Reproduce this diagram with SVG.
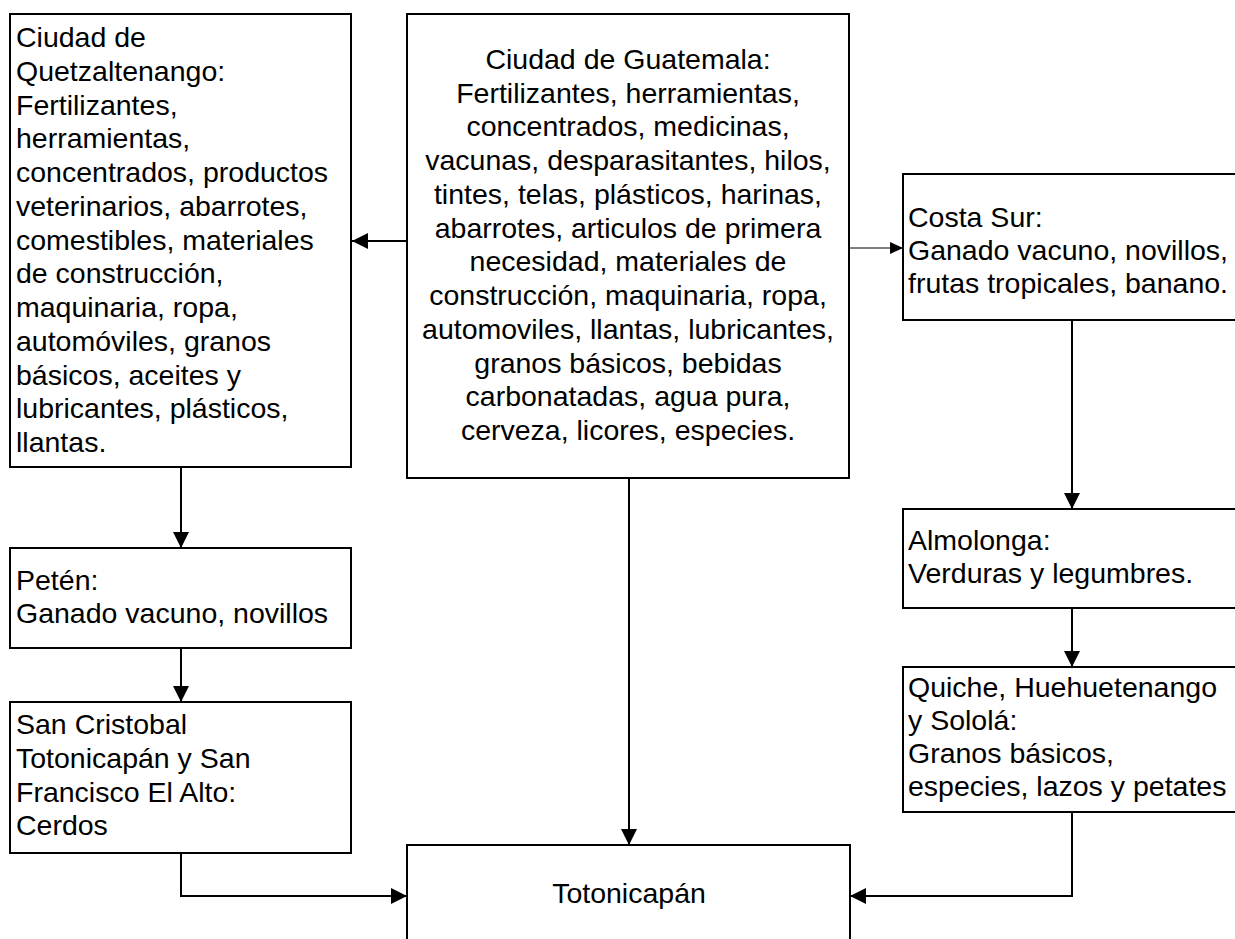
<svg xmlns="http://www.w3.org/2000/svg" width="1235" height="939" viewBox="0 0 1235 939">
<style>
.box{fill:#fff;stroke:#000;stroke-width:2}
.t{font-family:"Liberation Sans",Arial,sans-serif;font-size:28.5px;fill:#000}
.c{text-anchor:middle}
.ln{fill:none;stroke:#000;stroke-width:2}
.thin{fill:none;stroke:#000;stroke-width:1}
</style>
<defs>
<marker id="ah" markerUnits="userSpaceOnUse" markerWidth="16" markerHeight="16" refX="16" refY="8" orient="auto"><path d="M0,0 L16,8 L0,16 z" fill="#000"/></marker>
<marker id="ahs" markerUnits="userSpaceOnUse" markerWidth="13" markerHeight="12" refX="13" refY="6" orient="auto"><path d="M0,0 L13,6 L0,12 z" fill="#000"/></marker>
</defs>
<g id="connectors">
<path class="ln" d="M407,241 L352,241" marker-end="url(#ah)"/>
<path class="thin" d="M849,248 L903,248" marker-end="url(#ahs)"/>
<path class="ln" d="M629,478 L629,845" marker-end="url(#ah)"/>
<path class="ln" d="M181,467 L181,548" marker-end="url(#ah)"/>
<path class="ln" d="M181,648 L181,702" marker-end="url(#ah)"/>
<path class="ln" d="M181,853 L181,896 L407,896" marker-end="url(#ah)"/>
<path class="ln" d="M1072,320 L1072,509" marker-end="url(#ah)"/>
<path class="ln" d="M1072,608 L1072,667" marker-end="url(#ah)"/>
<path class="ln" d="M1072,812 L1072,896 L850,896" marker-end="url(#ah)"/>
</g>
<g id="quetzaltenango">
<rect class="box" x="10" y="14" width="341" height="453"/>
<text class="t" x="16"><tspan x="16" y="47">Ciudad de</tspan><tspan x="16" y="81">Quetzaltenango:</tspan><tspan x="16" y="115">Fertilizantes,</tspan><tspan x="16" y="148">herramientas,</tspan><tspan x="16" y="182">concentrados, productos</tspan><tspan x="16" y="216">veterinarios, abarrotes,</tspan><tspan x="16" y="250">comestibles, materiales</tspan><tspan x="16" y="283">de construcción,</tspan><tspan x="16" y="317">maquinaria, ropa,</tspan><tspan x="16" y="351">automóviles, granos</tspan><tspan x="16" y="385">básicos, aceites y</tspan><tspan x="16" y="418">lubricantes, plásticos,</tspan><tspan x="16" y="452">llantas.</tspan></text>
</g>
<g id="guatemala">
<rect class="box" x="407" y="14" width="442" height="464"/>
<text class="t c"><tspan x="628" y="69">Ciudad de Guatemala:</tspan><tspan x="628" y="103">Fertilizantes, herramientas,</tspan><tspan x="628" y="136">concentrados, medicinas,</tspan><tspan x="628" y="170">vacunas, desparasitantes, hilos,</tspan><tspan x="628" y="204">tintes, telas, plásticos, harinas,</tspan><tspan x="628" y="238">abarrotes, articulos de primera</tspan><tspan x="628" y="271">necesidad, materiales de</tspan><tspan x="628" y="305">construcción, maquinaria, ropa,</tspan><tspan x="628" y="339">automoviles, llantas, lubricantes,</tspan><tspan x="628" y="373">granos básicos, bebidas</tspan><tspan x="628" y="406">carbonatadas, agua pura,</tspan><tspan x="628" y="440">cerveza, licores, especies.</tspan></text>
</g>
<g id="costa-sur">
<rect class="box" x="903" y="174" width="340" height="146"/>
<text class="t"><tspan x="908" y="227">Costa Sur:</tspan><tspan x="908" y="260">Ganado vacuno, novillos,</tspan><tspan x="908" y="293">frutas tropicales, banano.</tspan></text>
</g>
<g id="almolonga">
<rect class="box" x="903" y="509" width="340" height="99"/>
<text class="t"><tspan x="908" y="550">Almolonga:</tspan><tspan x="908" y="583">Verduras y legumbres.</tspan></text>
</g>
<g id="quiche">
<rect class="box" x="903" y="667" width="340" height="145"/>
<text class="t"><tspan x="908" y="697">Quiche, Huehuetenango</tspan><tspan x="908" y="730">y Sololá:</tspan><tspan x="908" y="763">Granos básicos,</tspan><tspan x="908" y="796">especies, lazos y petates</tspan></text>
</g>
<g id="peten">
<rect class="box" x="10" y="548" width="341" height="100"/>
<text class="t"><tspan x="16" y="590">Petén:</tspan><tspan x="16" y="623">Ganado vacuno, novillos</tspan></text>
</g>
<g id="san-cristobal">
<rect class="box" x="10" y="702" width="341" height="151"/>
<text class="t"><tspan x="16" y="734">San Cristobal</tspan><tspan x="16" y="768">Totonicapán y San</tspan><tspan x="16" y="802">Francisco El Alto:</tspan><tspan x="16" y="835">Cerdos</tspan></text>
</g>
<g id="totonicapan">
<rect class="box" x="407" y="845" width="443" height="110"/>
<text class="t c" x="629" y="903">Totonicapán</text>
</g>
</svg>
